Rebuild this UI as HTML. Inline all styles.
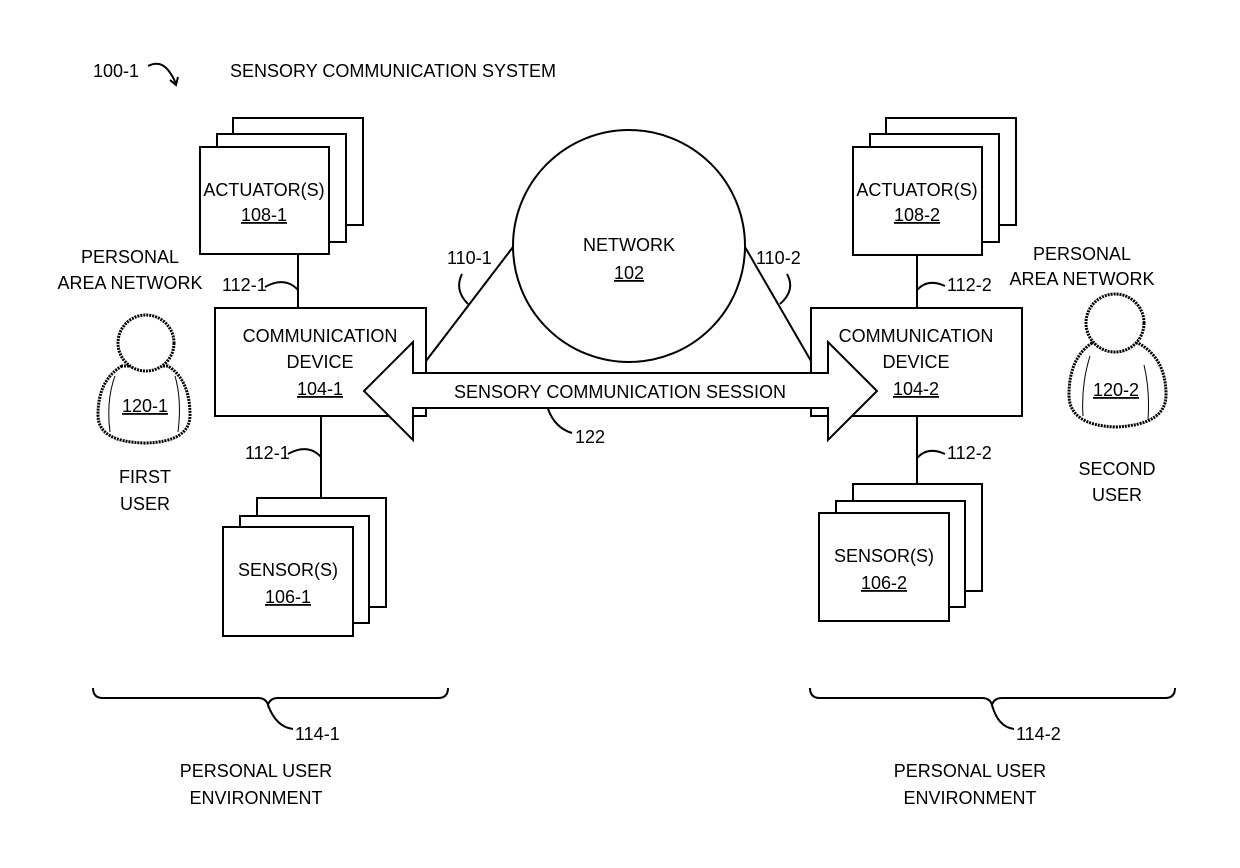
<!DOCTYPE html>
<html><head><meta charset="utf-8"><style>
html,body{margin:0;padding:0;background:#fff;}
svg text{font-family:"Liberation Sans",Arial,sans-serif;font-size:18px;fill:#000;}
</style></head><body>
<svg width="1240" height="863" viewBox="0 0 1240 863" xmlns="http://www.w3.org/2000/svg">
<g fill="none" stroke="#000" stroke-width="2">
<path d="M148,66 Q160,60 168,70 Q173,76 176,84"/>
<path d="M170,80 L176,85 L178,77"/>
</g>
<text x="93" y="77">100-1</text>
<text x="230" y="77">SENSORY COMMUNICATION SYSTEM</text>

<g fill="#fff" stroke="#000" stroke-width="2">
<rect x="233" y="118" width="130" height="107"/>
<rect x="217" y="134" width="129" height="108"/>
<rect x="200" y="147" width="129" height="107"/>
<rect x="886" y="118" width="130" height="107"/>
<rect x="870" y="134" width="129" height="108"/>
<rect x="853" y="147" width="129" height="108"/>
<rect x="257" y="498" width="129" height="109"/>
<rect x="240" y="516" width="129" height="107"/>
<rect x="223" y="527" width="130" height="109"/>
<rect x="853" y="484" width="129" height="107"/>
<rect x="836" y="501" width="129" height="106"/>
<rect x="819" y="513" width="130" height="108"/>
</g>
<g fill="none" stroke="#000" stroke-width="2">
<line x1="298" y1="254" x2="298" y2="308"/>
<line x1="321" y1="416" x2="321" y2="498"/>
<line x1="917" y1="255" x2="917" y2="308"/>
<line x1="917" y1="416" x2="917" y2="484"/>
<path d="M265,287 Q285,276 298,290"/>
<path d="M288,454 Q308,443 321,457"/>
<path d="M945,286 Q928,278 917,290"/>
<path d="M945,454 Q928,446 917,458"/>
<circle cx="629" cy="246" r="116" fill="#fff"/>
<line x1="513" y1="247" x2="426" y2="361"/>
<line x1="745" y1="247" x2="811" y2="361"/>
<path d="M462,274 Q454,290 468,304"/>
<path d="M787,274 Q796,290 780,304"/>
</g>
<g fill="#fff" stroke="#000" stroke-width="2">
<rect x="215" y="308" width="211" height="108"/>
<rect x="811" y="308" width="211" height="108"/>
<path d="M364,391 L413,342 L413,373 L828,373 L828,342 L877,391 L828,440 L828,408 L413,408 L413,440 Z"/>
</g>
<g fill="none" stroke="#000" stroke-width="2">
<path d="M548,409 Q555,428 572,433"/>
<path d="M93,688 Q93,698 103,698 L258,698 Q266,698 268,705 Q270,698 278,698 L438,698 Q448,698 448,688"/>
<path d="M268,705 Q276,727 293,729"/>
<path d="M810,688 Q810,698 820,698 L982,698 Q990,698 992,705 Q994,698 1002,698 L1165,698 Q1175,698 1175,688"/>
<path d="M992,705 Q998,727 1014,729"/>
</g>
<g fill="#fff" stroke="#000" stroke-width="3" stroke-dasharray="2,1">
<path d="M122,366 Q98,380 98,415 Q98,442 145,443 Q190,442 190,415 Q190,380 168,366 Z"/>
<circle cx="146" cy="343" r="28"/>
<path d="M1092,343 Q1069,358 1069,395 Q1069,425 1115,427 Q1166,425 1166,395 Q1166,358 1138,343 Z"/>
<circle cx="1115" cy="323" r="29"/>
</g>
<g fill="none" stroke="#000" stroke-width="1">
<path d="M115,376 Q106,400 110,432"/><path d="M175,376 Q182,400 178,432"/>
<path d="M1090,356 Q1081,385 1083,416"/><path d="M1144,365 Q1150,390 1148,420"/>
</g>

<g text-anchor="middle">
<text x="264" y="196">ACTUATOR(S)</text><text x="264" y="221" text-decoration="underline">108-1</text>
<text x="917" y="196">ACTUATOR(S)</text><text x="917" y="221" text-decoration="underline">108-2</text>
<text x="288" y="576">SENSOR(S)</text><text x="288" y="603" text-decoration="underline">106-1</text>
<text x="884" y="562">SENSOR(S)</text><text x="884" y="589" text-decoration="underline">106-2</text>
<text x="320" y="342">COMMUNICATION</text><text x="320" y="368">DEVICE</text><text x="320" y="395" text-decoration="underline">104-1</text>
<text x="916" y="342">COMMUNICATION</text><text x="916" y="368">DEVICE</text><text x="916" y="395" text-decoration="underline">104-2</text>
<text x="629" y="251">NETWORK</text><text x="629" y="279" text-decoration="underline">102</text>
<text x="620" y="398">SENSORY COMMUNICATION SESSION</text>
<text x="145" y="412" text-decoration="underline">120-1</text>
<text x="1116" y="396" text-decoration="underline">120-2</text>
<text x="130" y="263">PERSONAL</text><text x="130" y="289">AREA NETWORK</text>
<text x="1082" y="260">PERSONAL</text><text x="1082" y="285">AREA NETWORK</text>
<text x="145" y="483">FIRST</text><text x="145" y="510">USER</text>
<text x="1117" y="475">SECOND</text><text x="1117" y="501">USER</text>
<text x="256" y="777">PERSONAL USER</text><text x="256" y="804">ENVIRONMENT</text>
<text x="970" y="777">PERSONAL USER</text><text x="970" y="804">ENVIRONMENT</text>
</g>
<text x="222" y="291">112-1</text>
<text x="245" y="459">112-1</text>
<text x="947" y="291">112-2</text>
<text x="947" y="459">112-2</text>
<text x="447" y="264">110-1</text>
<text x="756" y="264">110-2</text>
<text x="575" y="443">122</text>
<text x="295" y="740">114-1</text>
<text x="1016" y="740">114-2</text>
</svg>
</body></html>
